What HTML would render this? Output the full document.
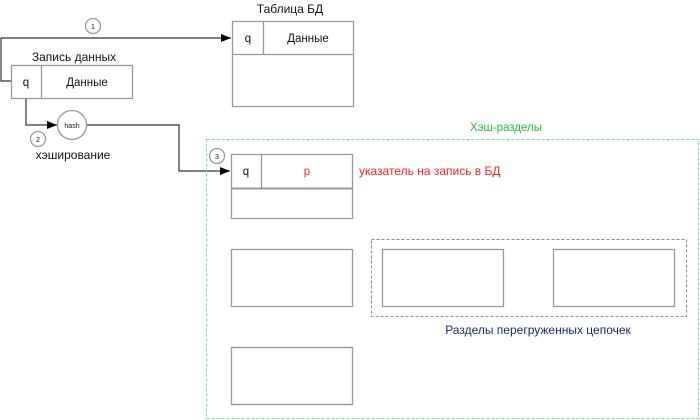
<!DOCTYPE html>
<html><head><meta charset="utf-8"><style>
html,body{margin:0;padding:0;background:#fff;width:700px;height:420px;overflow:hidden}
svg text{font-family:"Liberation Sans","DejaVu Sans",sans-serif}
</style></head><body>
<svg width="700" height="420" viewBox="0 0 700 420" xmlns="http://www.w3.org/2000/svg">
<defs><marker id="a" markerWidth="10" markerHeight="8" refX="10" refY="4" orient="auto" markerUnits="userSpaceOnUse"><path d="M0,0 L10,4 L0,8 z" fill="#000"/></marker></defs>
<g fill="none" stroke="#333" stroke-width="1.2">
<polyline points="11,81 1,81 1,38 231,38" marker-end="url(#a)"/>
<polyline points="26,98 26,125 57,125" marker-end="url(#a)"/>
<polyline points="87,125 179,125 179,171 230,171" marker-end="url(#a)"/>
</g>
<rect x="206.5" y="139.5" width="492" height="279" fill="none" stroke="#7fd8a8" stroke-dasharray="3,2"/>
<rect x="371.5" y="239.5" width="315" height="77" fill="none" stroke="#8090b0" stroke-dasharray="3,2"/>
<g fill="#fff" stroke="#999" stroke-width="1.3">
<rect x="232.5" y="21.5" width="121" height="85"/>
<line x1="232" y1="54.5" x2="353" y2="54.5"/>
<line x1="263.5" y1="21" x2="263.5" y2="54"/>
<rect x="11.5" y="65.5" width="121" height="33"/>
<line x1="41.5" y1="65" x2="41.5" y2="98"/>
<rect x="231.5" y="154.5" width="121" height="64"/>
<line x1="231" y1="188.5" x2="352" y2="188.5" stroke-width="2"/>
<line x1="261.5" y1="154" x2="261.5" y2="188"/>
<rect x="231.5" y="249.5" width="121" height="57"/>
<rect x="231.5" y="347.5" width="121" height="57"/>
<rect x="382.5" y="249.5" width="121" height="57"/>
<rect x="553.5" y="249.5" width="121" height="57"/>
<circle cx="72" cy="125" r="14.5"/>
<circle cx="93" cy="26" r="7.5"/>
<circle cx="38" cy="139" r="7.5"/>
<circle cx="217" cy="156" r="7.5"/>
</g>
<g font-size="11.5" fill="#111">
<text x="290" y="13" text-anchor="middle" font-size="12">Таблица БД</text>
<text x="248" y="42" text-anchor="middle">q</text>
<text x="308" y="42" text-anchor="middle">Данные</text>
<text x="74" y="61" text-anchor="middle" font-size="12">Запись данных</text>
<text x="26" y="86" text-anchor="middle">q</text>
<text x="87" y="86" text-anchor="middle">Данные</text>
<text x="72" y="128" text-anchor="middle" font-size="7">hash</text>
<text x="93" y="29" text-anchor="middle" font-size="7">1</text>
<text x="38" y="142" text-anchor="middle" font-size="7">2</text>
<text x="217" y="159" text-anchor="middle" font-size="7">3</text>
<text x="73" y="159" text-anchor="middle" font-size="12">хэширование</text>
<text x="246" y="175" text-anchor="middle">q</text>
<text x="307" y="175" text-anchor="middle" fill="#f22">p</text>
<text x="359" y="175" font-size="12" fill="#f22">указатель на запись в БД</text>
<text x="506" y="131" text-anchor="middle" fill="#2b4">Хэш-разделы</text>
<text x="538" y="334" text-anchor="middle" font-size="12" fill="#1a2a70">Разделы перегруженных цепочек</text>
</g>
</svg>
</body></html>
